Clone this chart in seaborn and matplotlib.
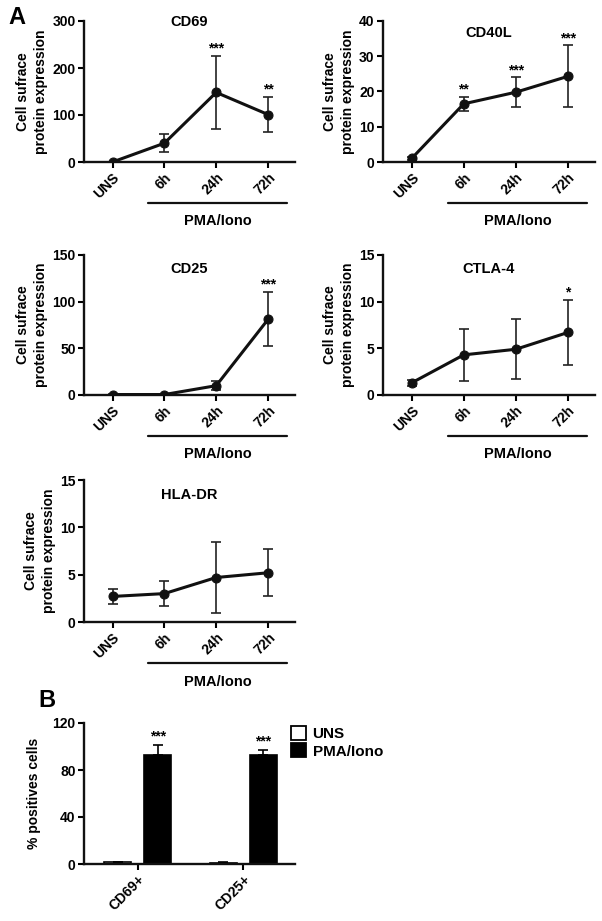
import matplotlib
matplotlib.use("Agg")
import matplotlib.pyplot as plt
import matplotlib.transforms as mtransforms
import seaborn as sns
import pandas as pd
import numpy as np
from matplotlib.patches import Patch

sns.set_style("ticks")
plt.rcParams['font.family'] = ['Liberation Sans', 'DejaVu Sans']
plt.rcParams['font.weight'] = 'bold'
plt.rcParams['axes.labelweight'] = 'bold'
plt.rcParams['text.color'] = 'black'
plt.rcParams['axes.labelcolor'] = 'black'
plt.rcParams['xtick.color'] = 'black'
plt.rcParams['ytick.color'] = 'black'

# ---------------- data ----------------
timepoints = ["UNS", "6h", "24h", "72h"]

cd69_mean = [0, 40, 148, 101]
cd69_err = [1, 19, 77, 37]
cd69_stars = ["", "", "***", "**"]

cd40l_mean = [1.0, 16.5, 19.8, 24.3]
cd40l_err = [0.5, 2.0, 4.2, 8.8]
cd40l_stars = ["", "**", "***", "***"]

cd25_mean = [0.5, 0.5, 10, 81]
cd25_err = [0.5, 0.5, 5, 29]
cd25_stars = ["", "", "", "***"]

ctla4_mean = [1.3, 4.3, 4.9, 6.7]
ctla4_err = [0.3, 2.8, 3.2, 3.5]
ctla4_stars = ["", "", "", "*"]

hladr_mean = [2.7, 3.0, 4.7, 5.2]
hladr_err = [0.8, 1.35, 3.7, 2.5]
hladr_stars = ["", "", "", ""]

markers_b = ["CD69+", "CD25+"]
conditions_b = ["UNS", "PMA/Iono"]
uns_pct = [1.5, 1.0]
pma_pct = [93, 93]
uns_pct_err = [0.3, 0.3]
pma_pct_err = [8, 4]
pct_stars = ["***", "***"]

# ---------------- figure ----------------
W, H = 602, 921
fig = plt.figure(figsize=(W / 100, H / 100), dpi=100)

def ax_px(l, r, top, bot):
    return fig.add_axes([l / W, 1 - bot / H, (r - l) / W, (bot - top) / H])

def style_axis(ax):
    sns.despine(ax=ax)
    for s in ["left", "bottom"]:
        ax.spines[s].set_linewidth(1.7)
        ax.spines[s].set_color("#111111")
    ax.tick_params(axis="both", width=1.5, length=4, labelsize=10, colors="black", pad=2)
    for lab in ax.get_yticklabels():
        lab.set_fontweight("bold")

def line_panel(ax, means, errs, stars, title, title_y, yticks, star_off):
    df = pd.DataFrame({"x": np.arange(len(timepoints)), "y": means})
    ax.errorbar(df["x"], df["y"], yerr=errs, fmt="none", ecolor="#222222",
                elinewidth=1.2, capsize=3.4, capthick=1.2, zorder=2)
    sns.lineplot(data=df, x="x", y="y", ax=ax, color="#111111", linewidth=2.2,
                 marker="o", markersize=6.5, markeredgecolor="#111111", zorder=3)
    ax.set_xlim(-0.55, 3.52)
    ax.set_ylim(yticks[0], yticks[-1])
    ax.set_yticks(yticks)
    ax.set_xticks(range(len(timepoints)))
    ax.set_xticklabels(timepoints, rotation=45, ha="right", rotation_mode="anchor",
                       fontweight="bold", fontsize=10)
    ax.set_xlabel("")
    ax.set_ylabel("Cell sufrace\nprotein expression", fontsize=10, fontweight="bold",
                  labelpad=3, linespacing=1.35)
    style_axis(ax)
    ax.text(0.5, title_y, title, transform=ax.transAxes, ha="center", va="center",
            fontsize=10.5, fontweight="bold")
    for i, s in enumerate(stars):
        if s:
            ax.text(i, means[i] + errs[i] + star_off, s, ha="center", va="bottom",
                    fontsize=10, fontweight="bold")
    trans = mtransforms.blended_transform_factory(ax.transData, ax.transAxes)
    ax.plot([0.69, 3.37], [-0.29, -0.29], color="#111111", lw=1.6,
            transform=trans, clip_on=False)
    ax.text(2.03, -0.42, "PMA/Iono", transform=trans, ha="center", va="center",
            fontsize=10.5, fontweight="bold")

ax1 = ax_px(84, 295, 21, 162)
line_panel(ax1, cd69_mean, cd69_err, cd69_stars, "CD69", 0.99, [0, 100, 200, 300], 1)

ax2 = ax_px(383, 595, 21, 162)
line_panel(ax2, cd40l_mean, cd40l_err, cd40l_stars, "CD40L", 0.915, [0, 10, 20, 30, 40], 0.1)

ax3 = ax_px(84, 295, 255, 395)
line_panel(ax3, cd25_mean, cd25_err, cd25_stars, "CD25", 0.9, [0, 50, 100, 150], 0.5)

ax4 = ax_px(383, 595, 255, 395)
line_panel(ax4, ctla4_mean, ctla4_err, ctla4_stars, "CTLA-4", 0.9, [0, 5, 10, 15], 0.05)

ax5 = ax_px(84, 295, 480, 622)
line_panel(ax5, hladr_mean, hladr_err, hladr_stars, "HLA-DR", 0.894, [0, 5, 10, 15], 0.05)

# ---------------- panel B ----------------
axb = ax_px(84, 295, 723, 864)
dfb = pd.DataFrame({
    "marker": markers_b * 2,
    "condition": [conditions_b[0]] * 2 + [conditions_b[1]] * 2,
    "value": uns_pct + pma_pct,
})
sns.barplot(data=dfb, x="marker", y="value", hue="condition", ax=axb,
            palette={"UNS": "white", "PMA/Iono": "black"}, edgecolor="black",
            linewidth=1.2, width=0.76, gap=0.33, errorbar=None, legend=False)
offs = 0.19
for i in range(2):
    axb.errorbar([i - offs], [uns_pct[i]], yerr=[[0], [uns_pct_err[i]]], fmt="none",
                 ecolor="black", elinewidth=1.2, capsize=3.5, capthick=1.2)
    axb.errorbar([i + offs], [pma_pct[i]], yerr=[[0], [pma_pct_err[i]]], fmt="none",
                 ecolor="black", elinewidth=1.2, capsize=3.5, capthick=1.2)
    axb.text(i + offs, pma_pct[i] + pma_pct_err[i] + 1.5, pct_stars[i], ha="center",
             va="bottom", fontsize=10, fontweight="bold")
axb.set_xlim(-0.51, 1.49)
axb.set_ylim(0, 120)
axb.set_yticks([0, 40, 80, 120])
axb.set_xticks([0, 1])
axb.set_xticklabels(markers_b, rotation=45, ha="right", rotation_mode="anchor",
                    fontweight="bold", fontsize=10)
axb.set_xlabel("")
axb.set_ylabel("% positives cells", fontsize=10, fontweight="bold", labelpad=8)
style_axis(axb)

handles = [Patch(facecolor="white", edgecolor="black", linewidth=1.3, label="UNS"),
           Patch(facecolor="black", edgecolor="black", linewidth=1.3, label="PMA/Iono")]
leg = fig.legend(handles=handles, loc="upper left", bbox_to_anchor=(285 / W, 1 - 720 / H),
                 frameon=False, fontsize=11, handlelength=1.0, handleheight=1.0,
                 handletextpad=0.4, labelspacing=0.15, borderaxespad=0)
for t in leg.get_texts():
    t.set_fontweight("bold")

fig.text(8 / W, 1 - 17 / H, "A", fontsize=17, fontweight="bold", va="center", ha="left")
fig.text(38 / W, 1 - 700 / H, "B", fontsize=17, fontweight="bold", va="center", ha="left")

fig.savefig("out.png", dpi=100, facecolor="white")
